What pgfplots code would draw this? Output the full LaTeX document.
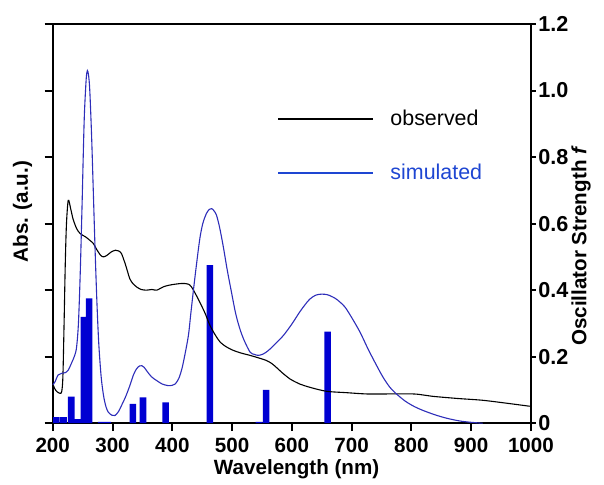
\documentclass[border=0pt]{standalone}
\usepackage{fontspec}
\setmainfont{Liberation Sans}
\usepackage{pgfplots}
\pgfplotsset{compat=1.18}
\definecolor{barblue}{RGB}{0,0,210}
\definecolor{simblue}{RGB}{45,45,185}
\definecolor{legblue}{RGB}{30,70,210}
\begin{document}
\begin{tikzpicture}
\useasboundingbox (-26.35pt,-30.5pt) rectangle (275.5pt,211.5pt);
\pgfplotsset{
  common/.style={
    at={(0pt,0pt)}, anchor=south west,
    scale only axis, width=239pt, height=199.5pt,
    xmin=200, xmax=1000, ymin=0, ymax=1.2,
    axis line style={line width=1pt,-},
    tick style={line width=1pt, black},
    tick align=outside, major tick length=4pt,
    ytick={0,0.2,0.4,0.6,0.8,1.0,1.2},
    label style={font=\fontsize{10.3}{12}\selectfont\bfseries},
    tick label style={font=\fontsize{10.3}{12}\selectfont\bfseries},
  }
}
\begin{axis}[common,
  xtick={200,300,400,500,600,700,800,900,1000},
  xticklabels={200,300,400,500,600,700,800,900,1000},
  xtick pos=bottom,
  yticklabels={}, ytick pos=left,
  xlabel={Wavelength (nm)},
  xlabel style={at={(axis description cs:0.51,-0.115)}, anchor=center},
  ylabel={Abs. (a.u.)},
  ylabel style={at={(axis description cs:-0.063,0.53)}, anchor=center},
  legend style={draw=none, fill=none, at={(axis description cs:0.469,0.694)}, anchor=west,
    inner sep=0pt, row sep=14pt, column sep=6pt, font=\fontsize{10.7}{12}\selectfont},
  legend cell align=left,
  legend image code/.code={\draw[#1, line width=1pt] (0pt,0pt) -- (47.5pt,0pt);},
]
% oscillator strengths
\addplot[ybar, bar width=11, fill=barblue, draw=none, forget plot] coordinates {
(206,0.018) (218,0.018) (231,0.08) (242,0.012) (252,0.32) (261,0.375)
(281,0.004) (292,0.004) (334,0.058) (351,0.078) (389,0.063) (463,0.475)
(545,0.004) (557,0.10) (660,0.275)
};
% observed
\addplot[black, line width=0.55pt, smooth] coordinates {
(200,0.12) (203,0.105) (207,0.095) (212,0.09) (215,0.095) (217,0.14) (219,0.30)
(221,0.48) (223,0.60) (226,0.67) (230,0.645) (234,0.614) (240,0.585) (246,0.57)
(255,0.56) (262,0.55) (268,0.54) (273,0.524) (280,0.505) (285,0.50) (291,0.505)
(298,0.515) (305,0.52) (310,0.518) (315,0.51) (322,0.475) (329,0.434) (335,0.418)
(340,0.41) (348,0.402) (357,0.40) (366,0.402) (374,0.40) (385,0.41) (395,0.415)
(405,0.418) (415,0.42) (421,0.42) (427,0.418) (432,0.41) (440,0.385) (446,0.364)
(455,0.33) (463,0.294) (472,0.265) (480,0.244) (490,0.23) (502,0.219) (515,0.211)
(530,0.204) (545,0.196) (557,0.189) (566,0.18) (574,0.168) (585,0.15) (597,0.133)
(606,0.124) (613,0.118) (630,0.108) (658,0.096) (690,0.092) (725,0.088) (760,0.088)
(803,0.088) (819,0.085) (835,0.081) (853,0.078) (880,0.074) (919,0.069) (960,0.06)
(998,0.051)
};
\addlegendentry{observed}
% simulated
\addplot[simblue, line width=0.55pt, smooth, legend image post style={legblue, line width=0.8pt}] coordinates {
(200,0.115) (204,0.125) (209,0.145) (215,0.15) (221,0.152) (226,0.16) (232,0.183)
(237,0.205) (240,0.23) (243,0.30) (246,0.45) (249,0.65) (251,0.80) (253,0.93)
(256,1.035) (258,1.06) (260,1.045) (262,1.0) (265,0.865) (268,0.69) (271,0.514)
(274,0.36) (277,0.24) (281,0.14) (285,0.083) (289,0.05) (293,0.033) (299,0.024)
(304,0.023) (310,0.035) (315,0.053) (322,0.08) (329,0.113) (335,0.145) (340,0.163)
(345,0.172) (349,0.173) (353,0.168) (357,0.158) (365,0.14) (374,0.128) (383,0.118)
(393,0.113) (400,0.114) (405,0.118) (411,0.135) (416,0.163) (421,0.205) (427,0.264)
(431,0.33) (435,0.394) (440,0.47) (446,0.554) (451,0.60) (457,0.63) (462,0.643)
(466,0.645) (470,0.638) (474,0.625) (479,0.59) (485,0.534) (492,0.46) (499,0.394)
(506,0.33) (513,0.284) (520,0.25) (530,0.214) (537,0.207) (544,0.204) (552,0.208)
(561,0.219) (573,0.24) (586,0.264) (600,0.298) (613,0.334) (622,0.356) (630,0.373)
(640,0.385) (650,0.388) (660,0.386) (672,0.376) (680,0.365) (689,0.349) (700,0.318)
(714,0.274) (727,0.225) (739,0.183) (752,0.14) (764,0.108) (775,0.088) (790,0.066)
(805,0.05) (820,0.038) (840,0.025) (859,0.015) (880,0.007) (898,0.003) (919,0.0)
};
\addlegendentry{\textcolor{legblue}{simulated}}
\end{axis}
\begin{axis}[common,
  axis x line=none, axis y line*=right,
  major tick length=2.5pt,
  yticklabels={0,0.2,0.4,0.6,0.8,1.0,1.2},
  yticklabel style={inner sep=1pt, font=\fontsize{10.8}{12}\selectfont\bfseries},
  ylabel={Oscillator Strength \textit{f}},
  ylabel style={at={(axis description cs:1.105,0.444)}, anchor=center},
]
\end{axis}
\end{tikzpicture}
\end{document}
